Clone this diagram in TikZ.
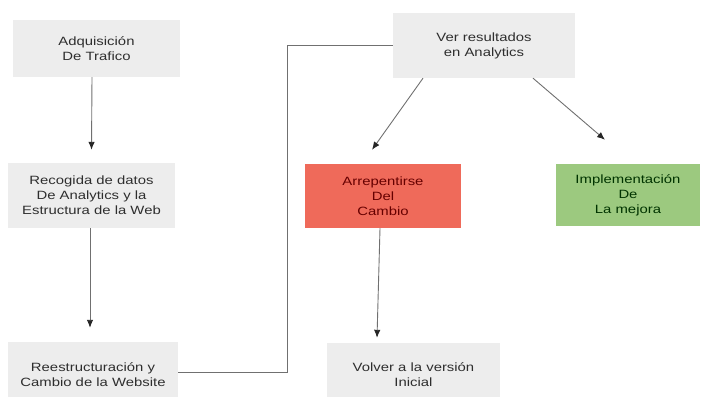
\documentclass[tikz,border=0pt]{standalone}
\usepackage{fontspec}
\setmainfont[FakeStretch=1.24]{Liberation Sans}
\usetikzlibrary{arrows.meta}
\definecolor{boxgray}{HTML}{EDEDED}
\definecolor{boxred}{HTML}{EF6A5A}
\definecolor{boxgreen}{HTML}{9CC97F}
\definecolor{txtgray}{HTML}{2E2E2E}
\definecolor{linegray}{HTML}{707070}
\begin{document}
\begin{tikzpicture}[x=1pt,y=-1pt,
  box/.style={rectangle,fill=boxgray,draw=none,inner sep=0pt,align=center,
    text=txtgray,font=\fontsize{12}{15}\selectfont},
  arr/.style={draw=linegray,line width=0.9pt,-{Latex[length=8pt,width=6.5pt,fill=black!85,color=black!85]}},
  conn/.style={draw=linegray,line width=0.9pt}]
\useasboundingbox (0,0) rectangle (703,396);
\node[box,minimum width=167pt,minimum height=57pt] (b1) at (96.5,48.5) {Adquisición\\ De Trafico};
\node[box,minimum width=167pt,minimum height=65pt] (b2) at (91.5,195.5) {Recogida de datos\\De Analytics y la\\Estructura de la Web};
\node[box,minimum width=170pt,minimum height=66pt] (b3) at (93,375) {Reestructuración y\\Cambio de la Website};
\node[box,minimum width=182pt,minimum height=65pt] (b4) at (484,45.5) {Ver resultados\\ en Analytics};
\node[box,fill=boxred,text={red!40!black},minimum width=156pt,minimum height=64pt] (b5) at (383,196) {Arrepentirse\\Del\\Cambio};
\node[box,fill=boxgreen,text={green!20!black},minimum width=144pt,minimum height=62pt] (b6) at (628,195) {Implementación\\De\\La mejora};
\node[box,minimum width=173pt,minimum height=64pt] (b7) at (413.5,375) {Volver a la versión\\ Inicial};
\draw[arr] ([xshift=-4.5pt]b1.south) -- ([yshift=13pt]b2.north);
\draw[arr] ([xshift=-1.5pt]b2.south) -- ([xshift=-3pt,yshift=14pt]b3.north);
\draw[conn] ([yshift=3pt]b3.east) -- ++(109,0) |- (b4.west);
\draw[arr] ([xshift=-61pt]b4.south) -- ([xshift=-11pt,yshift=14pt]b5.north);
\draw[arr] ([xshift=49pt]b4.south) -- ([xshift=-23pt,yshift=24pt]b6.north);
\draw[arr] ([xshift=-3pt]b5.south) -- ([xshift=-36.5pt,yshift=5pt]b7.north);
\end{tikzpicture}
\end{document}
